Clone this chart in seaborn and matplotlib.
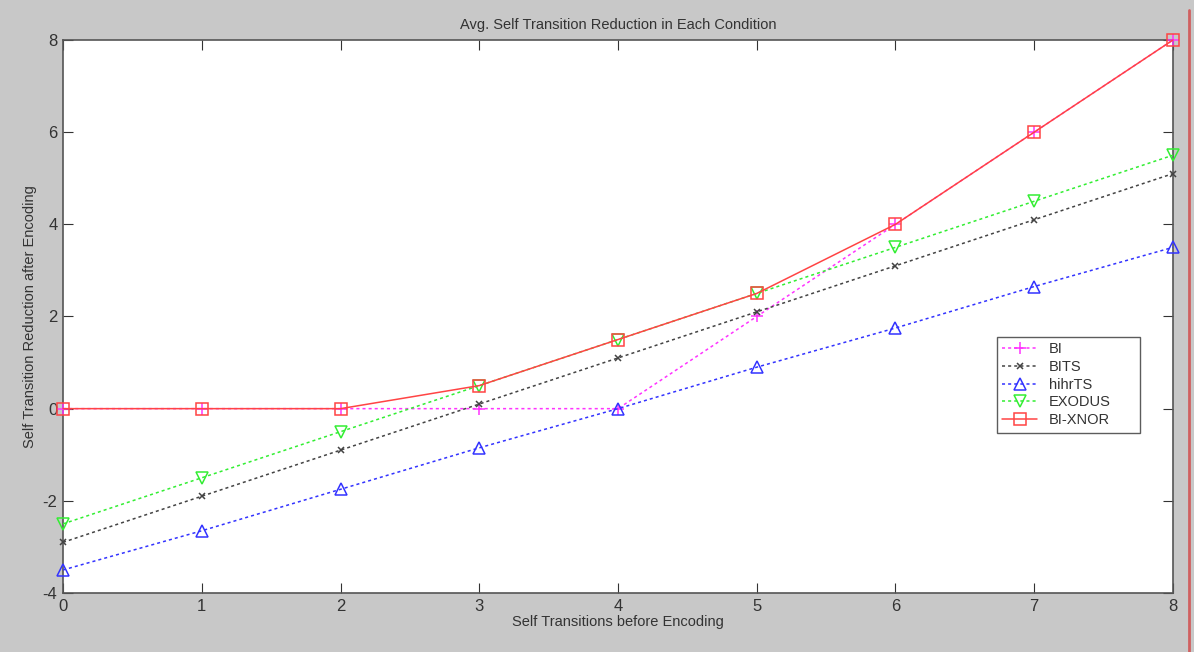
import matplotlib
matplotlib.use("Agg")
import matplotlib.pyplot as plt
from matplotlib.lines import Line2D
import seaborn as sns

x_vals = [0, 1, 2, 3, 4, 5, 6, 7, 8]
bi = [0, 0, 0, 0, 0, 2, 4, 6, 8]
bits = [-2.9, -1.9, -0.9, 0.1, 1.1, 2.1, 3.1, 4.1, 5.1]
hihrts = [-3.5, -2.65, -1.75, -0.85, 0, 0.9, 1.75, 2.65, 3.5]
exodus = [-2.5, -1.5, -0.5, 0.5, 1.5, 2.5, 3.5, 4.5, 5.5]
bi_xnor = [0, 0, 0, 0.5, 1.5, 2.5, 4, 6, 8]

# name, values, colour, marker, marker size, dash pattern
series = [
    ("BI", bi, "#ff33ff", "+", 9, (2, 2)),
    ("BITS", bits, "#444444", "x", 5, (2, 2)),
    ("hihrTS", hihrts, "#3333ff", "^", 8, (2, 2)),
    ("EXODUS", exodus, "#33ee33", "v", 8, (2, 2)),
    ("BI-XNOR", bi_xnor, "#ff4444", "s", 8, None),
]

sns.set_style("ticks")
plt.rcParams["font.family"] = ["Liberation Sans", "DejaVu Sans"]
plt.rcParams["axes.unicode_minus"] = False

fig = plt.figure(figsize=(11.94, 6.52), dpi=100, facecolor="#c8c8c8")
ax = fig.add_axes([0.0528, 0.0905, 0.9296, 0.8482])
ax.set_facecolor("white")

handles = []
for name, vals, col, mk, ms, dash in series:
    ls = "-" if dash is None else (0, dash)
    sns.lineplot(x=x_vals, y=vals, ax=ax, color=col, linewidth=1.1,
                 linestyle=ls, marker=mk, markersize=ms,
                 markerfacecolor="none", markeredgecolor=col,
                 markeredgewidth=1.1, clip_on=False, zorder=3)
    handles.append(Line2D([], [], color=col, linewidth=1.1, linestyle=ls,
                          marker=mk, markersize=ms, markerfacecolor="none",
                          markeredgecolor=col, markeredgewidth=1.1))

ax.set_xlim(0, 8)
ax.set_ylim(-4, 8)
ax.set_xticks(range(0, 9))
ax.set_yticks(range(-4, 9, 2))
ax.tick_params(direction="in", length=7, top=True, right=True,
               labelsize=12, colors="#333333", pad=4)
for s in ax.spines.values():
    s.set_color("#555555")
    s.set_linewidth(1.2)

ax.set_title("Avg. Self Transition Reduction in Each Condition",
             fontsize=10.5, color="#333333", pad=8)
ax.set_xlabel("Self Transitions before Encoding", fontsize=10.5,
              color="#333333", labelpad=1)
ax.set_ylabel("Self Transition Reduction after Encoding", fontsize=10.5,
              color="#333333", labelpad=4)

leg = ax.legend(handles, [s[0] for s in series],
                bbox_to_anchor=(0.841, 0.268, 0.129, 0.217), loc="center left",
                mode="expand", fontsize=10.5, frameon=True, fancybox=False,
                handlelength=2.4, borderpad=0.4, labelspacing=0.25,
                borderaxespad=0)
leg.get_frame().set_edgecolor("#333333")
leg.get_frame().set_linewidth(1.0)
for t in leg.get_texts():
    t.set_color("#333333")

fig.add_artist(Line2D([0.9955, 0.9955], [0, 0.985], transform=fig.transFigure,
                      color="#d06060", linewidth=2))

fig.savefig("out.png", dpi=100, facecolor=fig.get_facecolor())
